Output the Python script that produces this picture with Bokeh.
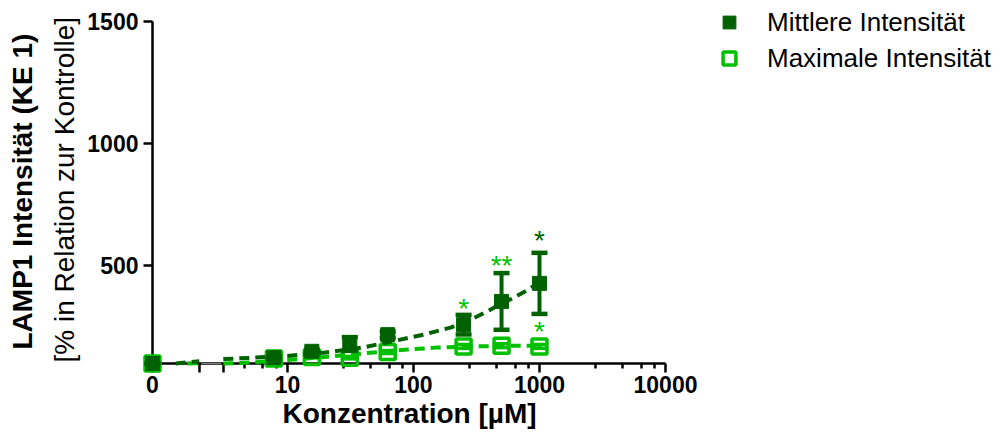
import math
from bokeh.plotting import figure
from bokeh.models import (Range1d, FixedTicker, ColumnDataSource, Legend, LegendItem,
                          Title, BoxAnnotation)
from bokeh.embed import file_html
from bokeh.resources import INLINE
from bokeh.core.properties import value

# ---------------- data ----------------
conc = [0, 7.8125, 15.625, 31.25, 62.5, 250, 500, 1000]          # µM
mean_int = [100, 124, 150, 180, 218, 259, 354, 428]               # Mittlere Intensität
mean_sd = [0, 4, 6, 28, 12, 40, 116, 125]
max_int = [100, 120, 127, 124, 147, 170, 173, 170]                # Maximale Intensität
max_sd = [0, 3, 4, 5, 6, 8, 8, 8]

# fitted (dashed) curves
mean_fit_lo_x = [1.3, 2.0]
mean_fit_lo_y = [100, 109]
mean_fit_x = [3.1, 5, 10, 20, 40, 70, 120, 200, 300, 400, 500, 600, 800, 1000]
mean_fit_y = [118, 123, 131, 145, 166, 192, 218, 248, 285, 318, 345, 365, 400, 432]
max_fit_lo_x = [1.6, 2.0]
max_fit_lo_y = [100, 101]
max_fit_x = [3.1, 5, 10, 22, 48, 90, 150, 250, 500, 1000]
max_fit_y = [100, 104, 114, 129, 145, 157, 165, 169, 172, 173]

# significance marks
sig_text = ["*", "**", "*", "*"]
sig_conc = [1000, 500, 250, 1000]
sig_y = [618, 516, 341, 247]
sig_color = ["#006100", "#00C000", "#00C000", "#00C000"]

# axes
x_major = [10, 100, 1000, 10000]
x_major_labels = ["10", "100", "1000", "10000"]
x_minor = [4.6, 6.4, 8.2, 28, 46, 64, 82, 280, 460, 640, 820, 2800, 4600, 6400, 8200]
y_ticks = [500, 1000, 1500]
Y_MIN, Y_MAX = 100, 1500

x_title = "Konzentration [µM]"
y_title_1 = "LAMP1 Intensität (KE 1)"
y_title_2 = "[% in Relation zur Kontrolle]"
legend_labels = ["Mittlere Intensität", "Maximale Intensität"]

# broken-axis layout: where "0" sits on the log axis and where the break is
X_ZERO = 0.85
X_AXIS_END = 10000
BREAK_LO, BREAK_HI = 2.0, 3.1

DARK = "#006100"
LIGHT = "#00C000"
FONT = "Liberation Sans"

# plot area: axes span 513 x 342 px; the frame continues right / up to hold the legend
AXIS_PX, FRAME_PX = 513, 842
AXIS_PY, TOP_EXTRA = 342, 21
px_per_decade = AXIS_PX / math.log10(X_AXIS_END / X_ZERO)
X_VIEW_END = X_AXIS_END * 10 ** ((FRAME_PX - AXIS_PX) / px_per_decade)
Y_VIEW_END = Y_MAX + TOP_EXTRA * (Y_MAX - Y_MIN) / AXIS_PY

px = [X_ZERO if c == 0 else c for c in conc]
src_mean = ColumnDataSource(dict(x=px, y=mean_int,
                                 lo=[m - s for m, s in zip(mean_int, mean_sd)],
                                 hi=[m + s for m, s in zip(mean_int, mean_sd)]))
src_max = ColumnDataSource(dict(x=px, y=max_int,
                                lo=[m - s for m, s in zip(max_int, max_sd)],
                                hi=[m + s for m, s in zip(max_int, max_sd)]))

p = figure(width=990, height=437, frame_width=FRAME_PX, frame_height=AXIS_PY + TOP_EXTRA,
           x_axis_type="log", output_backend="svg", toolbar_location=None,
           x_range=Range1d(X_ZERO, X_VIEW_END), y_range=Range1d(Y_MIN, Y_VIEW_END),
           min_border_left=148, min_border_top=0, min_border_bottom=74,
           min_border_right=0)
p.outline_line_color = None
p.grid.visible = False
p.background_fill_color = "white"

# ---- axes ----
for ax in (p.xaxis[0], p.yaxis[0]):
    ax.axis_line_width = 2.5
    ax.axis_line_color = "black"
    ax.major_tick_line_width = 2.5
    ax.minor_tick_line_width = 2.5
    ax.major_tick_out = 9
    ax.major_tick_in = 0
    ax.minor_tick_out = 5
    ax.minor_tick_in = 0
    ax.major_label_text_font = FONT
    ax.major_label_text_font_style = "bold"
    ax.major_label_text_font_size = "23px"
    ax.major_label_text_color = "black"
    ax.axis_label = None

xa = p.xaxis[0]
xa.bounds = (X_ZERO, X_AXIS_END)
xa.ticker = FixedTicker(ticks=[X_ZERO, BREAK_LO, BREAK_HI] + x_major, minor_ticks=x_minor)
overrides = {X_ZERO: "0", BREAK_LO: "", BREAK_HI: ""}
overrides.update({t: l for t, l in zip(x_major, x_major_labels)})
xa.major_label_overrides = overrides
xa.major_label_standoff = 3

ya = p.yaxis[0]
ya.bounds = (Y_MIN, Y_MAX)
ya.ticker = FixedTicker(ticks=y_ticks, minor_ticks=[])
ya.major_label_standoff = 5

# axis titles (as titles so they can be centred on the axis, not on the frame)
p.add_layout(Title(text=x_title, align="left", offset=130, text_font=FONT,
                   text_font_size="28px", text_font_style="bold", text_color="black",
                   standoff=0), "below")
p.add_layout(Title(text=y_title_2, align="left", offset=1, text_font=FONT,
                   text_font_size="28px", text_font_style="normal", text_color="black",
                   standoff=10), "left")
p.add_layout(Title(text=y_title_1, align="left", offset=14, text_font=FONT,
                   text_font_size="28px", text_font_style="bold", text_color="black",
                   standoff=8), "left")

# gap in the x axis (axis break)
p.add_layout(BoxAnnotation(left=BREAK_LO * 1.04, right=BREAK_HI / 1.04, bottom=88, top=102,
                           fill_color="white", fill_alpha=1, line_color=None,
                           level="overlay"))

LVL = "overlay"
# ---- Maximale Intensität (light, open squares) ----
p.line(max_fit_lo_x, max_fit_lo_y, line_color=LIGHT, line_width=4, line_dash="10 6", level=LVL)
p.line(max_fit_x, max_fit_y, line_color=LIGHT, line_width=4, line_dash="10 6", level=LVL)
p.segment(x0="x", y0="lo", x1="x", y1="hi", source=src_max, line_color=LIGHT, line_width=3.5, level=LVL)
p.scatter(x="x", y="lo", source=src_max, marker="dash", size=14, line_color=LIGHT, line_width=3.5, level=LVL)
p.scatter(x="x", y="hi", source=src_max, marker="dash", size=14, line_color=LIGHT, line_width=3.5, level=LVL)
r_max = p.scatter(x="x", y="y", source=src_max, marker="square", size=15,
                  line_color=LIGHT, line_width=3.5, fill_color="white", fill_alpha=0, level=LVL)

# ---- Mittlere Intensität (dark, filled squares) ----
p.line(mean_fit_lo_x, mean_fit_lo_y, line_color=DARK, line_width=4, line_dash="10 6", level=LVL)
p.line(mean_fit_x, mean_fit_y, line_color=DARK, line_width=4, line_dash="10 6", level=LVL)
p.segment(x0="x", y0="lo", x1="x", y1="hi", source=src_mean, line_color=DARK, line_width=4, level=LVL)
p.scatter(x="x", y="lo", source=src_mean, marker="dash", size=16, line_color=DARK, line_width=4.5, level=LVL)
p.scatter(x="x", y="hi", source=src_mean, marker="dash", size=16, line_color=DARK, line_width=4.5, level=LVL)
r_mean = p.scatter(x="x", y="y", source=src_mean, marker="square", size=14,
                   line_color=DARK, line_width=1, fill_color=DARK, level=LVL)

# significance stars
p.text(x=sig_conc, y=sig_y, text=sig_text, text_color=sig_color,
       text_font=value(FONT), text_font_size="28px", text_align="center",
       text_baseline="middle", y_offset=4, level=LVL)

legend = Legend(items=[LegendItem(label=legend_labels[0], renderers=[r_mean]),
                       LegendItem(label=legend_labels[1], renderers=[r_max])],
                location=(561, 289), glyph_width=32, glyph_height=32, spacing=4,
                label_standoff=22, label_text_font=FONT, label_text_font_size="26px",
                label_text_color="black", border_line_color=None,
                background_fill_alpha=0, margin=0, padding=0, level="overlay")
p.add_layout(legend, "center")

open("out.html", "w").write(file_html(p, INLINE))
